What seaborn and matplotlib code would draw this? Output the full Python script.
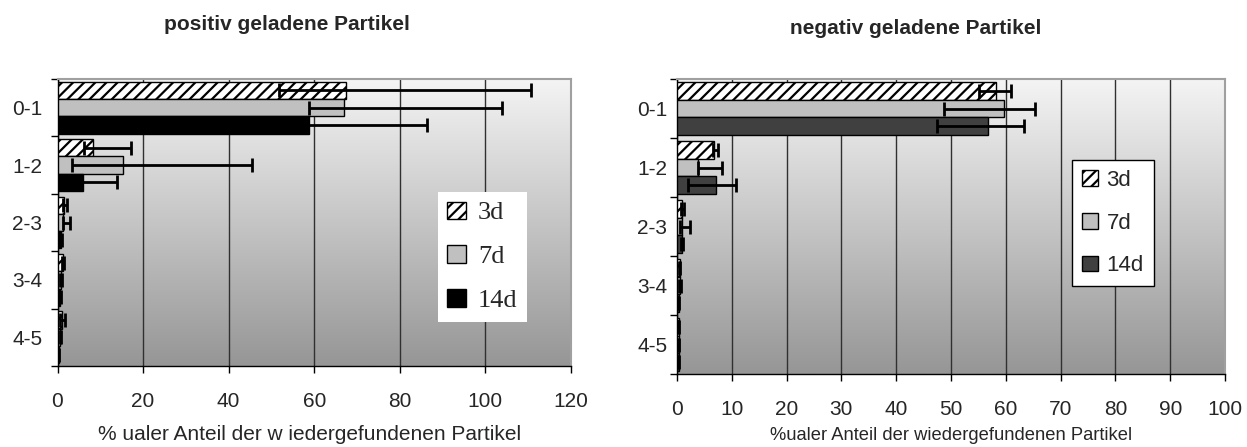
import numpy as np
import pandas as pd
import matplotlib
matplotlib.use("Agg")
import matplotlib.pyplot as plt
from matplotlib.patches import Patch
from matplotlib.font_manager import fontManager
import seaborn as sns

# ---- data -------------------------------------------------------------
classes = ["0-1", "1-2", "2-3", "3-4", "4-5"]
series = ["3d", "7d", "14d"]

# positively charged particles: mean and asymmetric error lengths
pos_3d = [67.5, 8.2, 1.6, 1.3, 1.0]
pos_3d_minus = [15.7, 2.1, 0.4, 0.2, 0.5]
pos_3d_plus = [43.2, 8.9, 0.7, 0.3, 0.7]
pos_7d = [67.0, 15.2, 1.4, 0.8, 0.7]
pos_7d_minus = [8.2, 11.8, 0.2, 0.2, 0.2]
pos_7d_plus = [36.8, 30.2, 1.6, 0.2, 0.2]
pos_14d = [58.7, 5.9, 0.8, 0.6, 0.3]
pos_14d_minus = [27.6, 5.9, 0.3, 0.2, 0.1]
pos_14d_plus = [27.6, 8.0, 0.3, 0.2, 0.1]

# negatively charged particles
neg_3d = [58.2, 6.8, 1.0, 0.5, 0.3]
neg_3d_minus = [3.1, 0.3, 0.2, 0.1, 0.1]
neg_3d_plus = [2.7, 0.6, 0.2, 0.1, 0.1]
neg_7d = [59.7, 3.9, 0.9, 0.55, 0.3]
neg_7d_minus = [10.9, 0.0, 0.4, 0.1, 0.1]
neg_7d_plus = [5.6, 4.3, 1.5, 0.1, 0.1]
neg_14d = [56.8, 7.2, 0.9, 0.3, 0.3]
neg_14d_minus = [9.4, 5.2, 0.2, 0.1, 0.1]
neg_14d_plus = [6.5, 3.6, 0.2, 0.1, 0.1]

title_pos = "positiv geladene Partikel"
title_neg = "negativ geladene Partikel"
xlabel_pos = "% ualer Anteil der w iedergefundenen Partikel"
xlabel_neg = "%ualer Anteil der wiedergefundenen Partikel"
ticks_pos = [0, 20, 40, 60, 80, 100, 120]
ticks_neg = [0, 10, 20, 30, 40, 50, 60, 70, 80, 90, 100]

# ---- style ------------------------------------------------------------
sns.set_theme(style="white")
plt.rcParams["font.family"] = ["Liberation Sans", "DejaVu Sans"]
plt.rcParams["hatch.linewidth"] = 1.6
narrow = "Liberation Sans Narrow" if any(
    f.name == "Liberation Sans Narrow" for f in fontManager.ttflist) else "Liberation Sans"

W, H = 1247, 447
fig = plt.figure(figsize=(W / 100, H / 100), dpi=100)
fig.patch.set_facecolor("white")


def px_axes(x0, y0, x1, y1):
    return fig.add_axes([x0 / W, 1 - y1 / H, (x1 - x0) / W, (y1 - y0) / H])


def long_frame(means, minus, plus):
    rows = []
    for s, m, lo, hi in zip(series, means, minus, plus):
        for c, v, a, b in zip(classes, m, lo, hi):
            rows.append({"Klasse": c, "Serie": s, "Wert": v, "lo": a, "hi": b})
    return pd.DataFrame(rows)


def gradient(ax):
    g = np.linspace(0, 1, 256).reshape(-1, 1)
    ax.imshow(g, cmap=matplotlib.colors.LinearSegmentedColormap.from_list(
        "bg", ["#f4f4f4", "#969696"]), aspect="auto",
        extent=[0, 1, 0, 1], transform=ax.transAxes, zorder=0)


def draw(ax, df, colors, xmax, ticks, tick_font, tick_size, ypad, xpad):
    gradient(ax)
    sns.barplot(data=df, y="Klasse", x="Wert", hue="Serie", order=classes,
                hue_order=series, palette=colors, orient="h", width=0.9,
                edgecolor="black", linewidth=1.0, errorbar=None, ax=ax,
                zorder=3, legend=False)
    for s, cont in zip(series, ax.containers):
        sub = df[df["Serie"] == s].set_index("Klasse").loc[classes]
        ys = [p.get_y() + p.get_height() / 2 for p in cont.patches]
        if s == "3d":
            for p in cont.patches:
                p.set_hatch("///")
                p.set_facecolor("white")
        ax.errorbar(sub["Wert"].values, ys,
                    xerr=[sub["lo"].values, sub["hi"].values],
                    fmt="none", ecolor="black", elinewidth=2.0, capsize=5,
                    capthick=2.0, zorder=4)
    ax.set_xlim(0, xmax)
    ax.set_ylim(4.5, -0.5)
    ax.set_xticks(ticks)
    ax.set_xticklabels([str(t) for t in ticks], fontsize=tick_size,
                       family=tick_font)
    ax.set_yticks(np.arange(-0.5, 5.0, 1.0))
    ax.set_yticklabels([])
    ax.set_yticks(range(5), minor=True)
    ax.set_yticklabels(classes, minor=True, fontsize=tick_size,
                       family=tick_font)
    ax.tick_params(axis="y", which="major", direction="out", length=5,
                   width=1, color="black", left=True)
    ax.tick_params(axis="y", which="minor", length=0, pad=ypad)
    ax.tick_params(axis="x", direction="out", length=5, width=1,
                   color="black", bottom=True, pad=xpad)
    ax.xaxis.grid(True, color="#303030", linewidth=1.0, zorder=1)
    ax.set_axisbelow(True)
    ax.set_xlabel("")
    ax.set_ylabel("")
    for side in ("top", "right"):
        ax.spines[side].set_color("#a0a0a0")
        ax.spines[side].set_linewidth(1.5)
    for side in ("left", "bottom"):
        ax.spines[side].set_color("black")
        ax.spines[side].set_linewidth(1.0)


# ---- left panel: positive particles ---------------------------------------
pos = long_frame([pos_3d, pos_7d, pos_14d],
                 [pos_3d_minus, pos_7d_minus, pos_14d_minus],
                 [pos_3d_plus, pos_7d_plus, pos_14d_plus])
ax1 = px_axes(57.5, 79, 571, 366)
draw(ax1, pos, {"3d": "white", "7d": "#c0c0c0", "14d": "black"},
     120, ticks_pos, "Liberation Sans", 15, 11, 14)
leg1 = ax1.legend(handles=[
    Patch(facecolor="white", edgecolor="black", hatch="///", label="3d"),
    Patch(facecolor="#c0c0c0", edgecolor="black", label="7d"),
    Patch(facecolor="black", edgecolor="black", label="14d")],
    loc="upper left", bbox_to_anchor=((438 - 57.5) / (571 - 57.5),
                                      1 - (192 - 79) / (366 - 79)),
    prop={"family": "Liberation Serif", "size": 19}, frameon=True,
    fancybox=False, framealpha=1, edgecolor="white", handlelength=0.7,
    handleheight=0.62, handletextpad=0.45, labelspacing=0.8,
    borderpad=0.36, borderaxespad=0)
leg1.get_frame().set_linewidth(0)
fig.text(287, H - 24, title_pos, transform=None, ha="center", va="center",
         fontsize=15, fontweight="bold")
fig.text(310, H - 435, xlabel_pos, transform=None, ha="center",
         va="center", fontsize=15)

# ---- right panel: negative particles --------------------------------------
neg = long_frame([neg_3d, neg_7d, neg_14d],
                 [neg_3d_minus, neg_7d_minus, neg_14d_minus],
                 [neg_3d_plus, neg_7d_plus, neg_14d_plus])
ax2 = px_axes(677, 79, 1225, 374)
draw(ax2, neg, {"3d": "white", "7d": "#c0c0c0", "14d": "#404040"},
     100, ticks_neg, narrow, 15, 7, 14)
leg2 = ax2.legend(handles=[
    Patch(facecolor="white", edgecolor="black", hatch="///", label="3d"),
    Patch(facecolor="#c0c0c0", edgecolor="black", label="7d"),
    Patch(facecolor="#404040", edgecolor="black", label="14d")],
    loc="upper left", bbox_to_anchor=((1072 - 677) / (1225 - 677),
                                      1 - (160 - 79) / (374 - 79)),
    prop={"family": "Liberation Sans", "size": 16}, frameon=True,
    fancybox=False, framealpha=1, edgecolor="black", handlelength=0.7,
    handleheight=0.7, handletextpad=0.4, labelspacing=0.97,
    borderpad=0.45, borderaxespad=0)
leg2.get_frame().set_linewidth(1.0)
fig.text(916, H - 28, title_neg, transform=None, ha="center", va="center",
         fontsize=15, fontweight="bold")
fig.text(951, H - 436, xlabel_neg, transform=None, ha="center",
         va="center", fontsize=13.2, family=narrow)

fig.savefig("out.png", dpi=100)
